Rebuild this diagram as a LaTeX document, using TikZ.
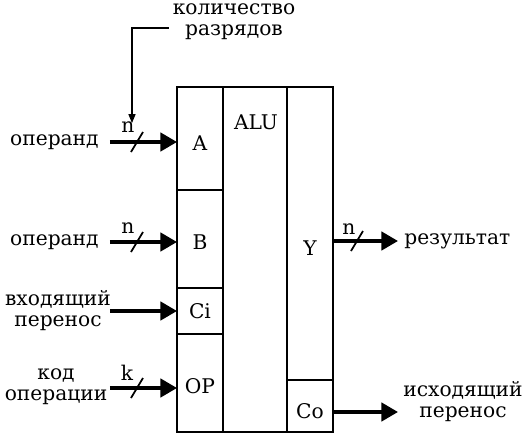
\documentclass[tikz,border=0pt]{standalone}
\usepackage{fontspec}
\setmainfont{DejaVu Serif}
\usetikzlibrary{arrows.meta,positioning}

\tikzset{
  cell/.style={draw,line width=1.1pt,inner sep=0pt,outer sep=0pt},
  lbl/.style={font=\fontsize{11.5}{12}\selectfont,inner sep=0pt,align=center},
  bus/.style={line width=2pt,-{Triangle[length=9.5pt,width=10.5pt]}},
  tick/.style={line width=1pt},
  note/.style={line width=0.6pt,-{Triangle[length=5pt,width=4pt]}}
}

\begin{document}
\begin{tikzpicture}[x=0.02cm,y=-0.02cm]
    \useasboundingbox (0,0) rectangle (529,447);

    % ALU block
    \node[cell,minimum width=0.92cm,minimum height=2.06cm] (cA) at (200,138.5) {};
    \node[cell,minimum width=0.92cm,minimum height=1.96cm] (cB) at (200,239) {};
    \node[cell,minimum width=0.92cm,minimum height=0.92cm] (cCi) at (200,311) {};
    \node[cell,minimum width=0.92cm,minimum height=1.96cm] (cOP) at (200,383) {};
    \node[cell,minimum width=1.28cm,minimum height=6.90cm] (cALU) at (255,259.5) {};
    \node[cell,minimum width=0.92cm,minimum height=5.86cm] (cY) at (310,233.5) {};
    \node[cell,minimum width=0.92cm,minimum height=1.04cm] (cCo) at (310,406) {};

    \node[lbl] (tA) at (200,143) {A};
    \node[lbl] (tB) at (200,242) {B};
    \node[lbl] (tCi) at (200,311) {Ci};
    \node[lbl] (tOP) at (200,386) {OP};
    \node[lbl] (tALU) at (256,122) {ALU};
    \node[lbl] (tY) at (310,248) {Y};
    \node[lbl] (tCo) at (310,411) {Co};

    % inputs
    \coordinate (inA) at (110,142);
    \coordinate (inB) at (110,242);
    \coordinate (inCi) at (110,311);
    \coordinate (inOP) at (110,388);
    \draw[bus] (inA) -- (inA -| cA.west);
    \draw[bus] (inB) -- (inB -| cB.west);
    \draw[bus] (inCi) -- (inCi -| cCi.west);
    \draw[bus] (inOP) -- (inOP -| cOP.west);

    \node[lbl,anchor=east] (opA) at (99,142) {операнд};
    \node[lbl,anchor=east] (opB) at (99,242) {операнд};
    \node[lbl] (carryIn) at (58,311) {входящий\\перенос};
    \node[lbl] (opCode) at (56,387) {код\\операции};

    % outputs
    \coordinate (outY) at (398,241);
    \coordinate (outCo) at (398,412);
    \draw[bus] (cY.east |- outY) -- (outY);
    \draw[bus] (cCo.east |- outCo) -- (outCo);

    \node[lbl,anchor=west] (res) at (404,241) {результат};
    \node[lbl] (carryOut) at (463,402) {исходящий\\перенос};

    % bus widths
    \draw[tick] ([shift={(21,10)}]inA) -- ++(12,-20);
    \draw[tick] ([shift={(21,10)}]inB) -- ++(12,-20);
    \draw[tick] ([shift={(21,10)}]inOP) -- ++(12,-20);
    \draw[tick] ([shift={(18,10)}]cY.east |- outY) -- ++(12,-20);
    \node[lbl] (nA) at (128,127) {n};
    \node[lbl] (nB) at (128,228) {n};
    \node[lbl] (kOP) at (127,373) {k};
    \node[lbl] (nY) at (349,229) {n};

    % number of bits
    \node[lbl] (bits) at (234,22) {количество\\разрядов};
    \coordinate (bend) at (132,28);
    \draw[note] ([xshift=-2pt]bits.west |- bend) -- (bend) -- ([yshift=-1pt]bend |- nA.north);
\end{tikzpicture}
\end{document}
